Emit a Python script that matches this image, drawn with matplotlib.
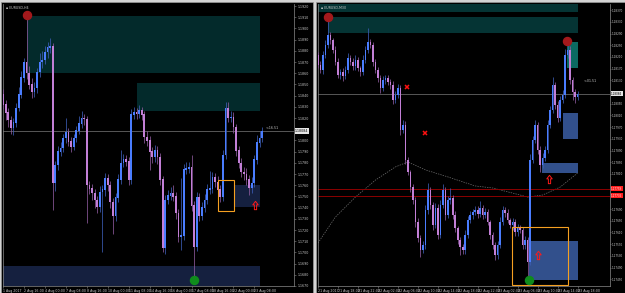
import numpy as np
import matplotlib.pyplot as plt
from matplotlib.patches import Rectangle
from matplotlib.path import Path

W, H = 625, 293

# ---------------- left chart: EURUSD H4 ----------------
left_title = "EURUSD,H4"
left_first_open = 1.1841
left_close = [1.1832, 1.1825, 1.1818, 1.1811, 1.1816, 1.1829, 1.1841, 1.1856, 1.1870, 1.1860,
              1.1850, 1.1843, 1.1847, 1.1861, 1.1870, 1.1872, 1.1879, 1.1883, 1.1884, 1.1762,
              1.1778, 1.1790, 1.1793, 1.1802, 1.1807, 1.1799, 1.1794, 1.1802, 1.1809, 1.1815,
              1.1820, 1.1819, 1.1760, 1.1757, 1.1753, 1.1747, 1.1741, 1.1754, 1.1756, 1.1766,
              1.1760, 1.1745, 1.1733, 1.1749, 1.1765, 1.1780, 1.1783, 1.1781, 1.1765, 1.1823,
              1.1825, 1.1824, 1.1827, 1.1823, 1.1803, 1.1800, 1.1790, 1.1785, 1.1791, 1.1785,
              1.1765, 1.1704, 1.1747, 1.1751, 1.1753, 1.1750, 1.1735, 1.1714, 1.1715, 1.1774,
              1.1775, 1.1776, 1.1742, 1.1705, 1.1749, 1.1733, 1.1740, 1.1747, 1.1756, 1.1757,
              1.1767, 1.1763, 1.1756, 1.1750, 1.1787, 1.1829, 1.1820, 1.1821, 1.1812, 1.1791,
              1.1780, 1.1772, 1.1770, 1.1765, 1.1758, 1.1762, 1.1783, 1.1798, 1.1802, 1.1808]
left_high = [1.1846, 1.1836, 1.1829, 1.1822, 1.1820, 1.1833, 1.1848, 1.1862, 1.1874, 1.1912,
             1.1866, 1.1856, 1.1852, 1.1865, 1.1878, 1.1880, 1.1884, 1.1888, 1.1891, 1.1887,
             1.1782, 1.1795, 1.1799, 1.1806, 1.1820, 1.1811, 1.1803, 1.1806, 1.1813, 1.1822,
             1.1826, 1.1824, 1.1822, 1.1764, 1.1761, 1.1757, 1.1750, 1.1759, 1.1760, 1.1771,
             1.1770, 1.1764, 1.1749, 1.1753, 1.1770, 1.1791, 1.1788, 1.1787, 1.1785, 1.1828,
             1.1830, 1.1829, 1.1832, 1.1830, 1.1826, 1.1808, 1.1804, 1.1794, 1.1796, 1.1795,
             1.1789, 1.1768, 1.1751, 1.1756, 1.1758, 1.1760, 1.1754, 1.1739, 1.1766, 1.1779,
             1.1781, 1.1781, 1.1787, 1.1746, 1.1754, 1.1753, 1.1745, 1.1752, 1.1761, 1.1773,
             1.1772, 1.1771, 1.1768, 1.1760, 1.1791, 1.1834, 1.1834, 1.1826, 1.1825, 1.1815,
             1.1795, 1.1784, 1.1776, 1.1775, 1.1769, 1.1767, 1.1787, 1.1805, 1.1808, 1.1812]
left_low = [1.1828, 1.1818, 1.1812, 1.1806, 1.1805, 1.1812, 1.1826, 1.1838, 1.1852, 1.1855,
            1.1846, 1.1838, 1.1839, 1.1842, 1.1857, 1.1865, 1.1868, 1.1874, 1.1878, 1.1738,
            1.1755, 1.1774, 1.1786, 1.1790, 1.1798, 1.1795, 1.1790, 1.1791, 1.1799, 1.1806,
            1.1811, 1.1814, 1.1726, 1.1752, 1.1747, 1.1740, 1.1735, 1.1736, 1.1700, 1.1750,
            1.1755, 1.1740, 1.1716, 1.1728, 1.1745, 1.1761, 1.1776, 1.1777, 1.1760, 1.1761,
            1.1819, 1.1819, 1.1820, 1.1818, 1.1798, 1.1795, 1.1774, 1.1780, 1.1781, 1.1779,
            1.1760, 1.1700, 1.1699, 1.1743, 1.1747, 1.1746, 1.1730, 1.1709, 1.1702, 1.1711,
            1.1770, 1.1771, 1.1737, 1.1675, 1.1701, 1.1728, 1.1729, 1.1736, 1.1743, 1.1752,
            1.1753, 1.1758, 1.1751, 1.1745, 1.1746, 1.1783, 1.1816, 1.1816, 1.1807, 1.1786,
            1.1775, 1.1767, 1.1765, 1.1760, 1.1751, 1.1753, 1.1758, 1.1779, 1.1794, 1.1799]
left_time_labels = ["1 Aug 2017", "2 Aug 16:00", "4 Aug 00:00", "7 Aug 08:00", "8 Aug 16:00",
                    "10 Aug 00:00", "11 Aug 08:00", "14 Aug 16:00", "16 Aug 00:00",
                    "17 Aug 08:00", "18 Aug 16:00", "22 Aug 00:00", "23 Aug 08:00"]
left_price_ticks = [1.1920, 1.1910, 1.1900, 1.1890, 1.1880, 1.1870, 1.1860, 1.1850, 1.1840,
                    1.1830, 1.1820, 1.1800, 1.1790, 1.1780, 1.1770, 1.1760, 1.1750,
                    1.1740, 1.1730, 1.1720, 1.1710, 1.1700, 1.1690, 1.1680, 1.1670]
left_last_price = 1.18084
left_note = "<-16.51"
# zones: (first bar, last bar, top, bottom)
left_teal_boxes = [(9, 98.3, 1.19111, 1.18602), (51, 98.3, 1.18513, 1.18263)]
left_navy_boxes = [(-1, 98.3, 1.16879, 1.16600), (88.4, 98.3, 1.17602, 1.17406)]
left_orange_box = (82.3, 88.4, 1.17647, 1.17370)
left_arrows = [(96.4, 1.17423)]

# ---------------- right chart: EURUSD M30 ----------------
right_title = "EURUSD,M30"
right_first_open = 1.18217
right_close = [1.18183, 1.18166, 1.18217, 1.18251, 1.18285, 1.18268, 1.18234, 1.18193, 1.18149, 1.18159,
               1.18145, 1.18166, 1.18207, 1.18193, 1.18179, 1.18200, 1.18172, 1.18159, 1.18200, 1.18234,
               1.18261, 1.18251, 1.18193, 1.18166, 1.18138, 1.18104, 1.18131, 1.18138, 1.18125, 1.18114,
               1.18063, 1.18080, 1.18104, 1.17960, 1.17978, 1.17858, 1.17817, 1.17765, 1.17721, 1.17646,
               1.17591, 1.17550, 1.17567, 1.17687, 1.17755, 1.17704, 1.17636, 1.17694, 1.17601, 1.17704,
               1.17755, 1.17670, 1.17721, 1.17728, 1.17670, 1.17625, 1.17584, 1.17560, 1.17550, 1.17601,
               1.17653, 1.17670, 1.17680, 1.17687, 1.17673, 1.17694, 1.17670, 1.17680, 1.17646, 1.17601,
               1.17567, 1.17533, 1.17567, 1.17646, 1.17687, 1.17677, 1.17653, 1.17636, 1.17646, 1.17611,
               1.17625, 1.17618, 1.17567, 1.17584, 1.17509, 1.17858, 1.17926, 1.17978, 1.17892, 1.17841,
               1.17865, 1.17892, 1.17978, 1.18029, 1.18114, 1.18046, 1.18001, 1.18063, 1.18080, 1.18217,
               1.18234, 1.18131, 1.18090, 1.18073, 1.18084]
# wick lengths beyond the body, in pips
right_wick_up = [1.0, 1.4, 1.2, 1.6, 6.2, 1.0, 0.8, 1.2, 1.5, 1.0,
                 1.2, 1.4, 1.8, 1.0, 1.2, 1.5, 1.0, 0.8, 1.6, 1.4,
                 4.8, 1.2, 1.0, 1.0, 0.8, 1.2, 1.5, 1.0, 1.2, 1.0,
                 1.4, 1.5, 1.2, 1.0, 1.8, 1.2, 1.0, 0.8, 1.2, 1.0,
                 1.4, 1.0, 1.5, 1.8, 2.4, 1.2, 1.0, 1.6, 1.2, 1.8,
                 2.0, 1.2, 1.5, 3.4, 1.0, 1.2, 0.8, 1.0, 1.2, 1.6,
                 1.4, 1.2, 1.0, 1.5, 1.2, 2.4, 1.0, 1.4, 1.0, 0.8,
                 1.0, 1.2, 1.5, 1.8, 1.4, 1.0, 1.2, 0.8, 1.2, 1.0,
                 1.4, 1.0, 1.2, 1.5, 1.0, 2.0, 1.4, 1.7, 1.0, 1.2,
                 1.5, 1.2, 1.6, 1.4, 2.8, 1.0, 1.2, 1.4, 1.6, 2.0,
                 3.1, 1.2, 1.0, 1.0, 1.1]
right_wick_dn = [1.2, 1.0, 1.4, 1.0, 1.2, 1.5, 1.0, 1.2, 1.0, 1.4,
                 1.6, 1.0, 1.2, 1.0, 1.5, 1.2, 1.0, 1.4, 1.2, 1.0,
                 1.0, 1.2, 1.4, 1.0, 1.2, 1.6, 1.0, 1.2, 1.0, 1.4,
                 1.5, 1.0, 1.2, 1.8, 1.0, 1.4, 1.2, 1.5, 1.2, 1.6,
                 1.2, 2.4, 1.0, 1.2, 1.4, 1.5, 1.8, 1.2, 1.4, 1.0,
                 1.2, 1.6, 1.0, 1.2, 1.4, 1.2, 1.5, 2.7, 1.4, 1.2,
                 1.0, 1.2, 1.4, 1.0, 1.2, 1.0, 1.4, 1.2, 1.0, 1.5,
                 1.4, 1.7, 1.2, 1.0, 1.2, 1.4, 1.0, 1.2, 1.6, 1.4,
                 1.2, 1.0, 1.5, 1.2, 6.2, 1.0, 1.2, 1.0, 1.4, 2.4,
                 1.2, 1.0, 1.2, 1.0, 1.2, 1.4, 1.2, 1.0, 1.2, 1.0,
                 1.2, 1.4, 2.7, 2.0, 1.0]
right_ma_bar = [0, 7, 15, 23, 31, 36, 43, 52, 63, 70, 81, 84, 90, 97, 104]
right_ma = [1.17574, 1.17663, 1.17731, 1.17789, 1.17834, 1.17851, 1.17824, 1.17800,
            1.17769, 1.17762, 1.17738, 1.17731, 1.17738, 1.17765, 1.17813]
right_time_labels = ["21 Aug 2017", "21 Aug 18:00", "21 Aug 22:00", "22 Aug 02:00", "22 Aug 06:00",
                     "22 Aug 10:00", "22 Aug 14:00", "22 Aug 18:00", "22 Aug 22:00", "23 Aug 02:00",
                     "23 Aug 06:00", "23 Aug 10:00", "23 Aug 14:00", "23 Aug 18:00"]
right_price_ticks = [1.18370, 1.18330, 1.18290, 1.18250, 1.18210, 1.18170, 1.18130,
                     1.18050, 1.18010, 1.17970, 1.17930, 1.17890, 1.17850, 1.17810,
                     1.17690, 1.17650, 1.17610, 1.17570, 1.17530, 1.17490, 1.17450]
right_last_price = 1.18084
right_levels = [1.17759, 1.17735]
right_note = "<-01.51"
right_teal_boxes = [(-1, 104, 1.18420, 1.18364), (4, 104, 1.18347, 1.18292)]
right_green_box = (99.6, 104, 1.18261, 1.18172)
right_blue_boxes = [(98, 104, 1.18019, 1.17930), (89.6, 104, 1.17848, 1.17813),
                    (84.4, 104, 1.17581, 1.17447)]
right_orange_box = (77.6, 100, 1.17629, 1.17430)
right_x_marks = [(35.6, 1.18107), (42.8, 1.17950)]
right_arrows = [(92.4, 1.17793), (88, 1.17533)]

UP, DOWN = '#4a7dff', '#c27fd6'
UP_WICK, DOWN_WICK = '#3c5cb4', '#8c5a9c'
TXT = '#c8c8c8'
FS = 2.3
arrow_path = Path([(0, 1), (0.65, 0.15), (0.27, 0.15), (0.27, -1), (-0.27, -1),
                   (-0.27, 0.15), (-0.65, 0.15), (0, 1)], closed=True)

fig = plt.figure(figsize=(6.25, 2.93), dpi=100, facecolor='#d4d4d4')


def pbox(x0, y0, x1, y1):
    return [x0 / W, 1 - y1 / H, (x1 - x0) / W, (y1 - y0) / H]


def candles(ax, o, c, h, l, width, min_h):
    idx = np.arange(len(c))
    up = c >= o
    for m, body, wick in ((up, UP, UP_WICK), (~up, DOWN, DOWN_WICK)):
        ax.vlines(idx[m], l[m], h[m], colors=wick, lw=0.55, zorder=3)
        ax.bar(idx[m], np.abs(c - o)[m] + min_h, bottom=np.minimum(o, c)[m] - min_h / 2,
               width=width, color=body, lw=0, zorder=4)


def setup(ax, xlim, ylim, ticks, tick_fmt, time_labels, step, ysize, ylen, ypad):
    ax.set_facecolor('black')
    ax.set_xlim(*xlim)
    ax.set_ylim(*ylim)
    for s in ax.spines.values():
        s.set_color('#8a8a8a')
        s.set_linewidth(0.5)
    ax.spines['top'].set_visible(False)
    ax.yaxis.tick_right()
    ax.set_yticks(ticks)
    ax.set_yticklabels([tick_fmt.format(t) for t in ticks])
    ax.set_xticks(np.arange(len(time_labels)) * step)
    ax.set_xticklabels(time_labels, ha='left')
    ax.tick_params(axis='x', colors='#8a8a8a', labelcolor=TXT, labelsize=FS,
                   length=1.5, width=0.4, pad=0.8)
    ax.tick_params(axis='y', colors='#8a8a8a', labelcolor=TXT, labelsize=ysize,
                   length=ylen, width=0.4, pad=ypad)


def price_box(ax, price, text, fc, tc, size):
    ax.text(1.004, price, text, transform=ax.get_yaxis_transform(), ha='left', va='center',
            fontsize=size, color=tc, zorder=10, clip_on=False,
            bbox=dict(boxstyle='square,pad=0.2', fc=fc, ec='none'))


# window backgrounds
for x0, x1 in ((1, 313), (316, 625)):
    fig.patches.append(Rectangle((x0 / W, 0), (x1 - x0) / W, 1 - 2 / H, transform=fig.transFigure,
                                 fc='black', ec='#9a9a9a', lw=0.5, zorder=-5))

# ---- left chart ----
lc = np.array(left_close)
lo = np.r_[left_first_open, lc[:-1]]
axl = fig.add_axes(pbox(3, 4, 294, 286))
setup(axl, (0.3, 111.15), (1.16700, 1.19218), left_price_ticks, '{:.4f}', left_time_labels, 8,
      FS, 1.5, 0.8)
for x0, x1, top, bot in left_teal_boxes:
    axl.add_patch(Rectangle((x0, bot), x1 - x0, top - bot, fc='#032a2b', ec='none', zorder=1))
for x0, x1, top, bot in left_navy_boxes:
    axl.add_patch(Rectangle((x0, bot), x1 - x0, top - bot, fc='#15203f', ec='none', zorder=1))
candles(axl, lo, lc, np.array(left_high), np.array(left_low), 0.68, 0.00004)
axl.axhline(left_last_price, color='#7a7a7a', lw=0.5, zorder=2)
x0, x1, top, bot = left_orange_box
axl.add_patch(Rectangle((x0, bot), x1 - x0, top - bot, fc='none', ec='#f5a021', lw=0.8, zorder=6))
for bx, p in left_arrows:
    axl.plot(bx, p, marker=arrow_path, ms=6, mfc='none', mec='#ff1a1a', mew=0.7, zorder=7)
axl.plot(9, left_high[9], 'o', ms=5.8, color='#a3191c', zorder=8)
axl.plot(73, left_low[73], 'o', ms=5.8, color='#0f8c1c', zorder=8)
axl.text(100.3, 1.18111, left_note, fontsize=FS, color=TXT, va='center', zorder=9)
price_box(axl, left_last_price, '{:.5f}'.format(left_last_price), '#e6e6e6', 'black', FS)
axl.text(0.012, 0.994, '\u25aa ' + left_title, transform=axl.transAxes, fontsize=FS,
         color=TXT, va='top', zorder=9)

# ---- right chart ----
rc = np.array(right_close)
ro = np.r_[right_first_open, rc[:-1]]
rh = np.maximum(ro, rc) + np.array(right_wick_up) / 10000
rl = np.minimum(ro, rc) - np.array(right_wick_dn) / 10000
axr = fig.add_axes(pbox(318, 4, 610, 286))
setup(axr, (0.2, 117.0), (1.17427, 1.18391), right_price_ticks, '{:.5f}', right_time_labels, 8,
      2.0, 0.8, 0.4)
for x0, x1, top, bot in right_teal_boxes:
    axr.add_patch(Rectangle((x0, bot), x1 - x0, top - bot, fc='#053434', ec='none', zorder=1))
x0, x1, top, bot = right_green_box
axr.add_patch(Rectangle((x0, bot), x1 - x0, top - bot, fc='#0b6a62', ec='none', zorder=1))
for x0, x1, top, bot in right_blue_boxes:
    axr.add_patch(Rectangle((x0, bot), x1 - x0, top - bot, fc='#32508c', ec='none', zorder=1))
axr.plot(right_ma_bar, right_ma, color='#6e6e6e', lw=0.5, ls=(0, (2, 1.5)), zorder=2)
for lvl in right_levels:
    axr.axhline(lvl, color='#8c0000', lw=0.7, zorder=2)
axr.axhline(right_last_price, color='#7a7a7a', lw=0.5, zorder=2)
candles(axr, ro, rc, rh, rl, 0.62, 0.00002)
x0, x1, top, bot = right_orange_box
axr.add_patch(Rectangle((x0, bot), x1 - x0, top - bot, fc='none', ec='#f5a021', lw=0.8, zorder=6))
for bx, p in right_arrows:
    axr.plot(bx, p, marker=arrow_path, ms=6, mfc='none', mec='#ff1a1a', mew=0.7, zorder=7)
for bx, p in right_x_marks:
    axr.plot(bx, p, marker='x', ms=3.2, mew=1.1, color='#ff1010', zorder=7)
axr.plot(4, rh[4], 'o', ms=5.8, color='#a3191c', zorder=8)
axr.plot(99.6, rh[100], 'o', ms=5.8, color='#a3191c', zorder=8)
axr.plot(84.4, rl[84], 'o', ms=5.8, color='#0f8c1c', zorder=8)
axr.text(106.4, 1.18128, right_note, fontsize=FS, color=TXT, va='center', zorder=9)
price_box(axr, right_last_price, '{:.5f}'.format(right_last_price), '#e6e6e6', 'black', 2.0)
for lvl in right_levels:
    price_box(axr, lvl, '{:.5f}'.format(lvl), '#ff2020', '#ffe0e0', 2.0)
axr.text(0.01, 0.994, '\u25aa ' + right_title, transform=axr.transAxes, fontsize=FS,
         color=TXT, va='top', zorder=9)

fig.savefig('out.png', dpi=100, facecolor=fig.get_facecolor())
